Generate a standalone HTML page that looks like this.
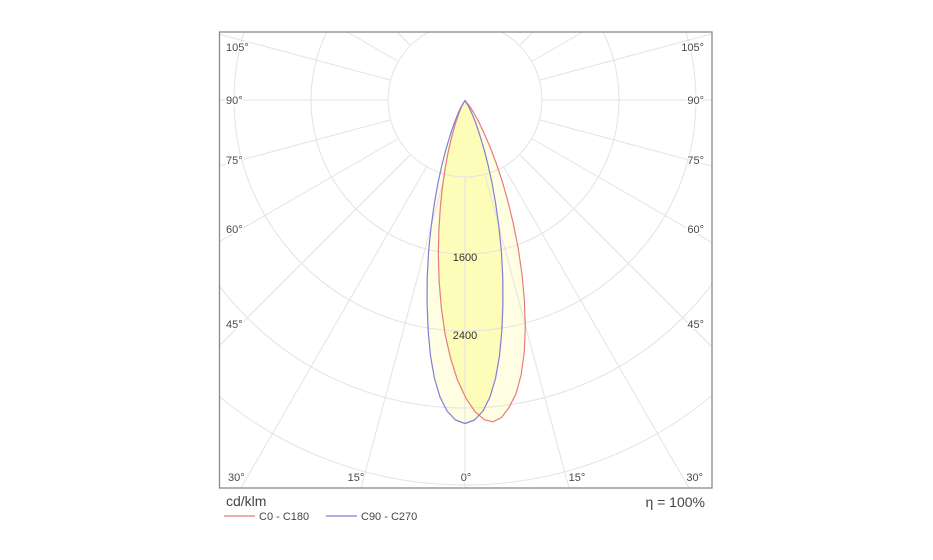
<!DOCTYPE html>
<html>
<head>
<meta charset="utf-8">
<style>
  html,body{margin:0;padding:0;background:#fff;overflow:hidden;}
  body{width:933px;height:560px;}
  svg{display:block;overflow:hidden;}
  .lbl{font-family:"Liberation Sans",sans-serif;font-size:11px;fill:#4a4a4a;paint-order:stroke;stroke:#fff;stroke-width:3px;stroke-linejoin:round;}
  .val{font-family:"Liberation Sans",sans-serif;font-size:11px;fill:#333;}
  .leg{font-family:"Liberation Sans",sans-serif;fill:#444;}
</style>
</head>
<body>
<svg width="933" height="560" viewBox="0 0 933 560" xmlns="http://www.w3.org/2000/svg">
  <defs>
    <clipPath id="box"><rect x="219.5" y="32" width="492.5" height="456"/></clipPath>
    <polygon id="bluepoly" points="465,100.5 468.8,106.7 471.6,112.7 475.6,122.6 479.6,134.5 484.4,150.5 488.2,165.5 492.1,183.3 495.7,203.8 498.9,226.7 501.4,251.6 502.8,277.9 502.9,304.7 501.8,331.2 499.5,356 495.5,378.5 490,397 483,411 474.5,420 465,423.5 455.5,420 447,411 440,397 434.5,378.5 430.5,356 428.2,331.2 427.1,304.7 427.2,277.9 428.6,251.6 431.1,226.7 434.3,203.8 437.9,183.3 441.8,165.5 445.6,150.5 450.4,134.5 454.4,122.6 458.4,112.7 461.2,106.7"/>
    <polygon id="redpoly" points="465,100.5 469.7,106.3 473.3,112.0 478.6,121.5 484.0,133.0 490.7,148.5 496.1,163.0 502.0,180.4 507.7,200.5 513.2,223.0 518.1,247.5 521.9,273.6 524.4,300.3 525.3,326.8 524.3,351.9 521.2,374.6 516,393.8 509,407.5 501.5,417.5 493,421.8 484.5,419.8 475,411.7 466,398.3 457.6,380.3 450.6,358.4 445.0,333.8 441.3,307.6 439.1,280.8 438.3,254.5 438.9,229.5 440.4,206.3 442.6,185.6 445.3,167.5 448.1,152.2 452.0,135.8 455.4,123.5 458.9,113.3 461.4,107.0"/>
    <clipPath id="blueclip">
      <use href="#bluepoly"/>
    </clipPath>
  </defs>

  <!-- fills -->
  <g clip-path="url(#box)">
    <use href="#redpoly" fill="#fffde2" stroke="none"/>
    <use href="#bluepoly" fill="#fffde2" stroke="none"/>
    <g clip-path="url(#blueclip)">
      <use href="#redpoly" fill="#fdfcb8" stroke="none"/>
    </g>
  </g>

  <!-- grid -->
  <g clip-path="url(#box)" stroke="#e3e3e3" stroke-width="1" fill="none">
    <circle cx="465" cy="100" r="77"/>
    <circle cx="465" cy="100" r="154"/>
    <circle cx="465" cy="100" r="231"/>
    <circle cx="465" cy="100" r="308"/>
    <circle cx="465" cy="100" r="385"/>
    <line x1="465" y1="177" x2="465" y2="488"/>
    <line x1="484.9" y1="174.4" x2="569" y2="488"/>
    <line x1="445.1" y1="174.4" x2="361" y2="488"/>
    <line x1="503.5" y1="166.7" x2="689" y2="488"/>
    <line x1="426.5" y1="166.7" x2="241" y2="488"/>
    <line x1="519.4" y1="154.4" x2="712" y2="347"/>
    <line x1="410.6" y1="154.4" x2="219.5" y2="345.5"/>
    <line x1="531.7" y1="138.5" x2="712" y2="242.6"/>
    <line x1="398.3" y1="138.5" x2="219.5" y2="241.7"/>
    <line x1="539.4" y1="119.9" x2="712" y2="166.2"/>
    <line x1="390.6" y1="119.9" x2="219.5" y2="165.8"/>
    <line x1="542" y1="100" x2="712" y2="100"/>
    <line x1="388" y1="100" x2="219.5" y2="100"/>
    <line x1="539.4" y1="80.1" x2="712" y2="33.8"/>
    <line x1="390.6" y1="80.1" x2="219.5" y2="34.2"/>
    <line x1="531.7" y1="61.5" x2="582.8" y2="32"/>
    <line x1="398.3" y1="61.5" x2="347.2" y2="32"/>
    <line x1="519.4" y1="45.6" x2="533" y2="32"/>
    <line x1="410.6" y1="45.6" x2="397" y2="32"/>
  </g>

  <!-- curves -->
  <g clip-path="url(#box)" stroke-width="1.2" stroke-linejoin="round">
    <use href="#redpoly" fill="none" stroke="#e67c7c"/>
    <use href="#bluepoly" fill="none" stroke="#7f7fd8"/>
  </g>

  <!-- box -->
  <rect x="219.5" y="32" width="492.5" height="456" fill="none" stroke="#8a8a8a" stroke-width="1.3"/>

  <!-- angle labels -->
  <text class="lbl" x="226" y="51">105°</text>
  <text class="lbl" x="226" y="104">90°</text>
  <text class="lbl" x="226" y="164">75°</text>
  <text class="lbl" x="226" y="233">60°</text>
  <text class="lbl" x="226" y="328">45°</text>
  <text class="lbl" x="704" y="51" text-anchor="end">105°</text>
  <text class="lbl" x="704" y="104" text-anchor="end">90°</text>
  <text class="lbl" x="704" y="164" text-anchor="end">75°</text>
  <text class="lbl" x="704" y="233" text-anchor="end">60°</text>
  <text class="lbl" x="704" y="328" text-anchor="end">45°</text>
  <text class="lbl" x="228" y="481">30°</text>
  <text class="lbl" x="356" y="481" text-anchor="middle">15°</text>
  <text class="lbl" x="466" y="481" text-anchor="middle">0°</text>
  <text class="lbl" x="577" y="481" text-anchor="middle">15°</text>
  <text class="lbl" x="703" y="481" text-anchor="end">30°</text>

  <!-- value labels -->
  <text class="val" x="465" y="261" text-anchor="middle">1600</text>
  <text class="val" x="465" y="339" text-anchor="middle">2400</text>

  <!-- legend -->
  <text class="leg" x="226" y="506" font-size="14">cd/klm</text>
  <line x1="224" y1="516" x2="255" y2="516" stroke="#e67c7c" stroke-width="1.2"/>
  <text class="leg" x="259" y="520" font-size="11">C0 - C180</text>
  <line x1="326" y1="516" x2="357" y2="516" stroke="#7f7fd8" stroke-width="1.2"/>
  <text class="leg" x="361" y="520" font-size="11">C90 - C270</text>
  <text class="leg" x="705" y="507" font-size="14" text-anchor="end">η = 100%</text>
</svg>
</body>
</html>
